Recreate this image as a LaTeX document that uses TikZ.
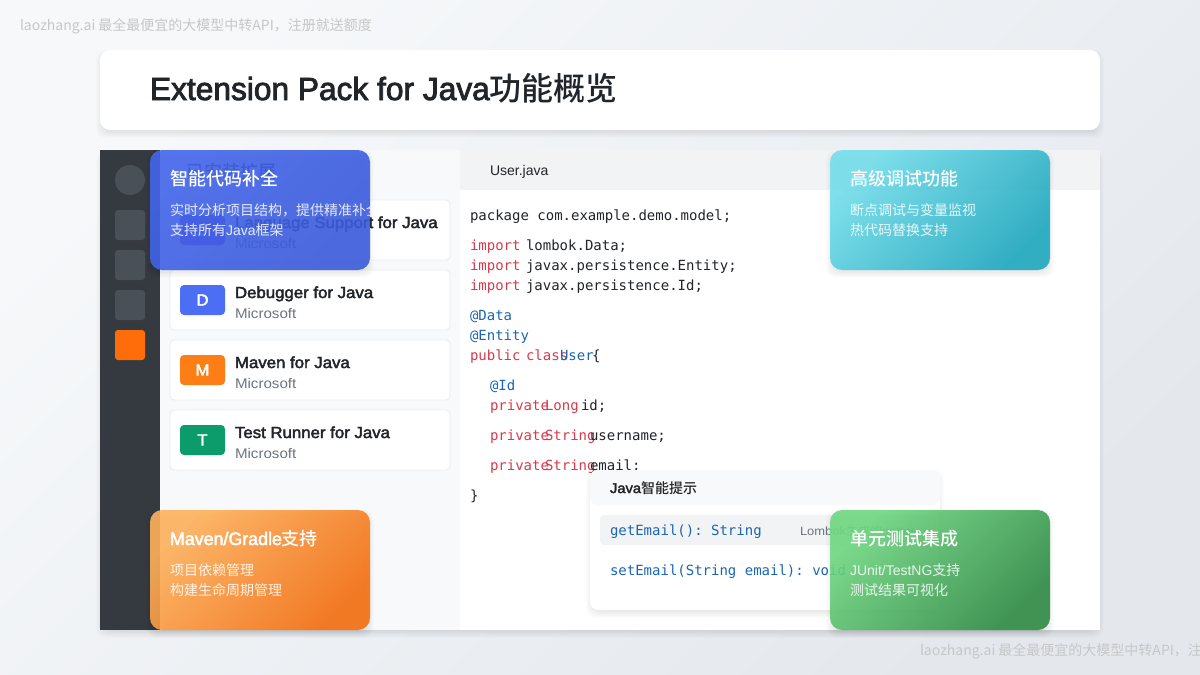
\documentclass[tikz,border=0pt]{standalone}
\usepackage{fontspec}
\setmainfont{Liberation Sans}[FakeStretch=1.08]
\setmonofont{DejaVu Sans Mono}
\newfontfamily\plain{Liberation Sans}
\newfontfamily\semi{Liberation Sans}[FakeBold=2.6,FakeStretch=1.05]
\newfontfamily\semititle{Liberation Sans}[FakeBold=2.6,FakeStretch=.99]
\newfontfamily\cjk{Noto Sans CJK SC}[BoldFont={Noto Sans CJK SC Medium}]
\usetikzlibrary{positioning}
\definecolor{pagea}{HTML}{F6F8FA}
\definecolor{pageb}{HTML}{E4E8ED}
\definecolor{sidebar}{HTML}{343A40}
\definecolor{sideicon}{HTML}{495057}
\definecolor{activeicon}{HTML}{FF6D0A}
\definecolor{panelbg}{HTML}{F8F9FA}
\definecolor{tabbar}{HTML}{F1F3F5}
\definecolor{cardline}{HTML}{E9ECEF}
\definecolor{ink}{HTML}{212529}
\definecolor{muted}{HTML}{6C757D}
\definecolor{kwred}{HTML}{D73A49}
\definecolor{kwblue}{HTML}{1B66B1}
\definecolor{iconpurple}{HTML}{7048E8}
\definecolor{iconblue}{HTML}{4C6EF5}
\definecolor{iconorange}{HTML}{FD7E14}
\definecolor{icongreen}{HTML}{0C9B6A}
\definecolor{bluea}{HTML}{4466EC}
\definecolor{blueb}{HTML}{3C5CDC}
\definecolor{tealb}{HTML}{1FA8C0}
\definecolor{teala}{HTML}{74DFEC}
\definecolor{orangea}{HTML}{FFB25C}
\definecolor{orangeb}{HTML}{F56E10}
\definecolor{greena}{HTML}{70D882}
\definecolor{greenb}{HTML}{2E8A44}
\tikzset{
 flat/.style={inner sep=0pt,outer sep=0pt,anchor=north west},
 baseleft/.style={inner sep=0pt,outer sep=0pt,anchor=base west},
 codeline/.style={baseleft,font=\fontsize{14}{14}\ttfamily,text=ink},
 kw/.style={codeline,text=kwred},
 ty/.style={codeline,text=kwblue},
 extcard/.style={flat,fill=white,draw=cardline,line width=.8pt,rounded corners=4pt,minimum width=280pt,minimum height=60pt},
 exticon/.style={flat,rounded corners=4pt,minimum width=45pt,minimum height=30pt,text=white,font=\fontsize{16}{16}\semi},
 extname/.style={baseleft,text=ink,font=\fontsize{16}{16}\semi},
 extvendor/.style={baseleft,text=muted,font=\fontsize{14}{14}\selectfont},
 featcard/.style={flat,rounded corners=12pt,minimum width=220pt,minimum height=120pt,fill opacity=.9},
 feathead/.style={baseleft,text=white,font=\fontsize{18}{18}\cjk\bfseries},
 featbody/.style={baseleft,text=white,text opacity=.85,font=\fontsize{14}{14}\cjk},
 watermark/.style={baseleft,text=black!22,font=\fontsize{14}{14}\cjk}
}
\newcommand{\softshadow}[5]{%
 \foreach \s in {1,...,8}
  \fill[black,opacity=#5,rounded corners=10pt] (#1-\s+4,#2-\s+8) rectangle (#3+\s-4,#4+\s+0);
}
\begin{document}
\begin{tikzpicture}[x=1pt,y=-1pt]
 \useasboundingbox (0,0) rectangle (1200,675);
 \shade[left color=pagea,right color=pageb,shading angle=45] (0,0) rectangle (1200,675);
 \node[watermark] (marktop) at (20,30) {laozhang.ai 最全最便宜的大模型中转API，注册就送额度};
 % title
 \softshadow{100}{50}{1100}{130}{.012}
 \node[flat,fill=white,rounded corners=10pt,minimum width=1000pt,minimum height=80pt] (titlebar) at (100,50) {};
 \node[baseleft,text=ink,font=\fontsize{32}{32}\semititle] (titletext) at (150,100) {Extension Pack for Java{\cjk\bfseries 功能概览}};
 % window
 \softshadow{100}{150}{1100}{630}{.012}
 \node[flat,fill=white,minimum width=1000pt,minimum height=480pt] (window) at (100,150) {};
 \node[flat,fill=sidebar,minimum width=60pt,minimum height=480pt] (rail) at (100,150) {};
 \node[flat,fill=panelbg,minimum width=300pt,minimum height=480pt] (panel) at (160,150) {};
 \node[flat,fill=tabbar,minimum width=640pt,minimum height=40pt] (tabs) at (460,150) {};
 \node[fill=sideicon,circle,inner sep=0pt,minimum size=30pt] (railavatar) at (130,180) {};
 \foreach \y/\c in {210/sideicon,250/sideicon,290/sideicon,330/activeicon}
  \node[flat,rounded corners=3pt,minimum width=30pt,minimum height=30pt,fill=\c] (rail\y) at (115,\y) {};
 \node[baseleft,text=ink,font=\fontsize{18}{18}\cjk\bfseries] (paneltitle) at (186,178) {已安装扩展};
 % extension list
 \foreach \y/\l/\c/\n in {200/J/iconpurple/Language Support for Java,270/D/iconblue/Debugger for Java,340/M/iconorange/Maven for Java,410/T/icongreen/Test Runner for Java} {
  \node[extcard] (card\l) at (170,\y) {};
  \node[exticon,fill=\c] (icon\l) at (180,\y+15) {\l};
  \node[extname] (name\l) at (235,\y+28) {\n};
  \node[extvendor] (vendor\l) at (235,\y+48) {Microsoft};
 }
 % editor
 \node[baseleft,text=ink,font=\fontsize{14}{14}\plain] (tabname) at (490,175) {User.java};
 \node[codeline] (l1) at (470,220) {package com.example.demo.model;};
 \foreach \y/\t in {250/lombok.Data;,270/javax.persistence.Entity;,290/javax.persistence.Id;} {
  \node[kw] (imp\y) at (470,\y) {import};
  \node[codeline] (pkg\y) at (526,\y) {\t};
 }
 \node[ty] (anna) at (470,320) {@Data};
 \node[ty] (annb) at (470,340) {@Entity};
 \node[kw] (pub) at (470,360) {public};
 \node[kw] (cls) at (526,360) {class};
 \node[ty] (usr) at (560,360) {User};
 \node[codeline] (brace) at (592,360) {\{};
 \node[ty] (annc) at (490,390) {@Id};
 \foreach \y/\ty/\x/\f in {410/Long/581/id;,440/String/590/username;,470/String/590/email;} {
  \node[kw] (prv\y) at (490,\y) {private};
  \node[kw] (typ\y) at (545,\y) {\ty};
  \node[codeline] (fld\y) at (\x,\y) {\f};
 }
 \node[codeline] (close) at (470,500) {\}};
 % popup
 \softshadow{590}{470}{940}{610}{.012}
 \node[flat,fill=white,rounded corners=8pt,minimum width=350pt,minimum height=140pt] (popup) at (590,470) {};
 \fill[panelbg,rounded corners=8pt] (590,505) |- (940,470) -- (940,505) -- cycle;
 \node[baseleft,text=ink,font=\fontsize{14}{14}\cjk\bfseries] (popuptitle) at (610,493) {{\mdseries\semi Java}智能提示};
 \node[flat,fill=tabbar,rounded corners=4pt,minimum width=330pt,minimum height=30pt] (rowhi) at (600,515) {};
 \node[ty] (geta) at (610,535) {getEmail(): String};
 \node[baseleft,text=muted,font=\fontsize{12}{12}\selectfont] (getb) at (800,535) {Lombok{\cjk 生成的}getter};
 \node[ty] (seta) at (610,575) {setEmail(String email): void};
 % feature cards
 \softshadow{150}{150}{370}{270}{.01}
 \node[featcard,left color=bluea,right color=blueb,shading angle=45] (featcode) at (150,150) {};
 \softshadow{830}{150}{1050}{270}{.01}
 \node[featcard,left color=teala,right color=tealb,shading angle=45] (featdebug) at (830,150) {};
 \softshadow{150}{510}{370}{630}{.01}
 \node[featcard,left color=orangea,right color=orangeb,shading angle=45] (featbuild) at (150,510) {};
 \softshadow{830}{510}{1050}{630}{.01}
 \node[featcard,left color=greena,right color=greenb,shading angle=45] (feattest) at (830,510) {};
 \begin{scope}
  \clip (150,150) rectangle (370,270);
  \node[feathead] (headcode) at (170,185) {智能代码补全};
  \node[featbody] (bodycodea) at (170,215) {实时分析项目结构，提供精准补全};
  \node[featbody] (bodycodeb) at (170,235) {支持所有{\plain Java}框架};
 \end{scope}
 \node[feathead] (headdebug) at (850,185) {高级调试功能};
 \node[featbody] (bodydebuga) at (850,215) {断点调试与变量监视};
 \node[featbody] (bodydebugb) at (850,235) {热代码替换支持};
 \node[feathead] (headbuild) at (170,545) {{\mdseries\semititle Maven/Gradle}支持};
 \node[featbody] (bodybuilda) at (170,575) {项目依赖管理};
 \node[featbody] (bodybuildb) at (170,595) {构建生命周期管理};
 \node[feathead] (headtest) at (850,545) {单元测试集成};
 \node[featbody] (bodytesta) at (850,575) {{\plain JUnit/TestNG}支持};
 \node[featbody] (bodytestb) at (850,595) {测试结果可视化};
 \node[watermark] (markbot) at (920,655) {laozhang.ai 最全最便宜的大模型中转API，注册就送额度};
\end{tikzpicture}
\end{document}
